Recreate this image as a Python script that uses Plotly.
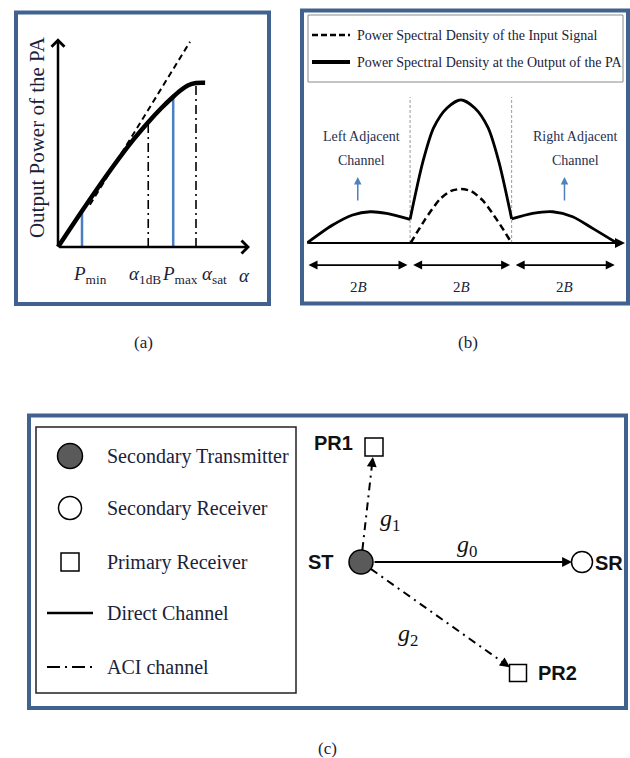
import math
import plotly.graph_objects as go

W, H = 630, 758

# ---------------- data ----------------
# (a) PA characteristic: input power alpha -> output power (arbitrary units)
PA_IN = [0.0, 1.0, 2.0, 3.0, 3.76, 4.3, 4.8, 5.1, 5.43, 5.75, 6.13]
PA_OUT = [0.0, 1.5, 2.95, 4.3, 5.2, 5.78, 6.26, 6.52, 6.74, 6.83, 6.84]
LINEAR_IN = [1.33, 5.5]
LINEAR_OUT = [1.76, 8.55]
BLUE_MARK_X = [1.0, 4.8]           # P_min, P_max
BLUE_MARK_Y = [1.5, 6.26]
DASHDOT_MARK_X = [3.76, 5.75]      # alpha_1dB, alpha_sat
DASHDOT_MARK_Y = [5.2, 6.83]
A_TICK_LABELS = ["<i>P</i><sub>min</sub>", "<i>α</i><sub>1dB</sub>",
                 "<i>P</i><sub>max</sub>", "<i>α</i><sub>sat</sub>", "<i>α</i>"]
A_TICK_X = [1.33, 3.63, 5.08, 6.54, 7.79]
A_YTITLE = "Output Power of the PA"

# (b) power spectral densities (frequency in units of B)
PSD_LEFT_F = [-3.0, -2.5, -2.11, -1.77, -1.45, -0.99]
PSD_LEFT = [0.0, 0.123, 0.192, 0.214, 0.203, 0.162]
PSD_MAIN_F = [-0.99, -0.74, -0.53, -0.27, 0.0, 0.27, 0.53, 0.74, 0.99]
PSD_MAIN = [0.162, 0.557, 0.79, 0.925, 0.98, 0.925, 0.79, 0.557, 0.165]
PSD_RIGHT_F = [0.99, 1.40, 1.79, 2.18, 2.57, 3.04]
PSD_RIGHT = [0.165, 0.203, 0.214, 0.180, 0.10, 0.0]
PSD_IN_F = [-0.98, -0.70, -0.41, -0.2, 0.0, 0.2, 0.43, 0.72, 0.99]
PSD_IN = [0.0, 0.16, 0.30, 0.355, 0.37, 0.355, 0.29, 0.15, 0.0]
CHANNEL_EDGES = [-0.99, 0.99]
BW_START = [-3.0, -0.96, 1.04]
BW_END = [-1.04, 0.96, 3.0]
BW_LABEL_X = [-2.0, 0.02, 2.03]
BW_LABEL = "2<i>B</i>"
ADJ_LINE1 = ["Left Adjacent", "Right Adjacent"]
ADJ_LINE2 = ["Channel", "Channel"]
ADJ_TEXT_X = [-1.94, 2.23]
ADJ_ARROW_X = [-2.01, 2.02]
B_LEGEND = ["Power Spectral Density of the Input Signal",
            "Power Spectral Density at the Output of the PA"]

# (c) system model
LEG_C_LABELS = ["Secondary Transmitter", "Secondary Receiver", "Primary Receiver",
                "Direct Channel", "ACI channel"]
NODE_NAMES = ["ST", "SR", "PR1", "PR2"]
NODE_X = [361, 582, 374, 518]
NODE_Y = [562, 562, 447, 673]
NODE_LABEL_X = [321, 609, 333, 557]
NODE_LABEL_Y = [562, 563, 443, 673]
LINK_FROM = ["ST", "ST", "ST"]
LINK_TO = ["SR", "PR1", "PR2"]
LINK_KIND = ["direct", "aci", "aci"]
GAIN_LABELS = ["<i>g</i><sub>0</sub>", "<i>g</i><sub>1</sub>", "<i>g</i><sub>2</sub>"]
GAIN_X = [467, 390, 408]
GAIN_Y = [546, 520, 635]
CAPTIONS = ["(a)", "(b)", "(c)"]

# ---------------- styling ----------------
SERIF = "Liberation Serif"
SANS = "Liberation Sans"
TXT = "#1b2238"
BORDER = "#41628f"
BLUE = "#4a7fc1"

fig = go.Figure()


def dx(p0, p1):
    return [p0 / W, p1 / W]


def dy(top, bottom):
    return [1 - bottom / H, 1 - top / H]


# ---------- panel (a) ----------
bx, by = [], []
for x, y in zip(BLUE_MARK_X, BLUE_MARK_Y):
    bx += [x, x, None]
    by += [0, y, None]
fig.add_trace(go.Scatter(x=bx, y=by, mode="lines", xaxis="x2", yaxis="y2",
                         line=dict(color=BLUE, width=2.5)))
ddx, ddy = [], []
for x, y in zip(DASHDOT_MARK_X, DASHDOT_MARK_Y):
    ddx += [x, x, None]
    ddy += [0, y, None]
fig.add_trace(go.Scatter(x=ddx, y=ddy, mode="lines", xaxis="x2", yaxis="y2",
                         line=dict(color="black", width=1.6, dash="9px,4px,2px,4px")))
fig.add_trace(go.Scatter(x=LINEAR_IN, y=LINEAR_OUT, mode="lines", xaxis="x2", yaxis="y2",
                         line=dict(color="black", width=2, dash="6px,4px")))
fig.add_trace(go.Scatter(x=PA_IN, y=PA_OUT, mode="lines", xaxis="x2", yaxis="y2",
                         line=dict(color="black", width=4.5, shape="spline", smoothing=0.8)))

annotations = []
# axes arrows (a)
annotations.append(dict(x=8, y=0, ax=0, ay=0, xref="x2", yref="y2", axref="x2", ayref="y2",
                        showarrow=True, arrowhead=4, arrowwidth=2.5, arrowsize=1,
                        arrowcolor="black", text=""))
annotations.append(dict(x=0, y=8.7, ax=0, ay=0, xref="x2", yref="y2", axref="x2", ayref="y2",
                        showarrow=True, arrowhead=4, arrowwidth=2.5, arrowsize=1,
                        arrowcolor="black", text=""))
for lab, x in zip(A_TICK_LABELS, A_TICK_X):
    annotations.append(dict(x=x, y=-1.17, xref="x2", yref="y2", text=lab, showarrow=False,
                            font=dict(family=SERIF, size=19, color=TXT)))
annotations.append(dict(x=-0.875, y=4.58, xref="x2", yref="y2", text=A_YTITLE, textangle=-90,
                        showarrow=False, font=dict(family=SERIF, size=21, color=TXT)))

# ---------- panel (b) ----------
sx, sy = [], []
for e in CHANNEL_EDGES:
    sx += [e, e, None]
    sy += [0, 1.0, None]
fig.add_trace(go.Scatter(x=sx, y=sy, mode="lines", xaxis="x3", yaxis="y3",
                         line=dict(color="#9a9a9a", width=1, dash="3px,2px")))
fig.add_trace(go.Scatter(x=PSD_IN_F, y=PSD_IN, mode="lines", xaxis="x3", yaxis="y3",
                         line=dict(color="black", width=2.5, dash="7px,4px",
                                   shape="spline", smoothing=0.7)))
for fx, py in [(PSD_LEFT_F, PSD_LEFT), (PSD_MAIN_F, PSD_MAIN), (PSD_RIGHT_F, PSD_RIGHT)]:
    fig.add_trace(go.Scatter(x=fx, y=py, mode="lines", xaxis="x3", yaxis="y3",
                             line=dict(color="black", width=2.8, shape="spline", smoothing=0.8)))

annotations.append(dict(x=3.2, y=0, ax=-3.0, ay=0, xref="x3", yref="y3", axref="x3", ayref="y3",
                        showarrow=True, arrowhead=2, arrowwidth=2, arrowsize=1,
                        arrowcolor="black", text=""))
for s, e, lx in zip(BW_START, BW_END, BW_LABEL_X):
    annotations.append(dict(x=e, y=-0.151, ax=s, ay=-0.151, xref="x3", yref="y3",
                            axref="x3", ayref="y3", showarrow=True, arrowside="end+start",
                            arrowhead=2, startarrowhead=2, arrowwidth=1.8, arrowsize=1,
                            startarrowsize=1, arrowcolor="black", text=""))
    annotations.append(dict(x=lx, y=-0.30, xref="x3", yref="y3", text=BW_LABEL,
                            showarrow=False, font=dict(family=SERIF, size=15, color=TXT)))
for l1, l2, tx, axx in zip(ADJ_LINE1, ADJ_LINE2, ADJ_TEXT_X, ADJ_ARROW_X):
    annotations.append(dict(x=tx, y=0.729, xref="x3", yref="y3", text=l1, showarrow=False,
                            font=dict(family=SERIF, size=14, color="#26304f")))
    annotations.append(dict(x=tx, y=0.568, xref="x3", yref="y3", text=l2, showarrow=False,
                            font=dict(family=SERIF, size=14, color="#26304f")))
    annotations.append(dict(x=axx, y=0.452, ax=axx, ay=0.281, xref="x3", yref="y3",
                            axref="x3", ayref="y3", showarrow=True, arrowhead=2,
                            arrowwidth=1.5, arrowsize=1, arrowcolor="#4f81bd", text=""))

# legend (b) drawn in figure pixel space
fig.add_trace(go.Scatter(x=[312, 350], y=[35, 35], mode="lines", xaxis="x", yaxis="y",
                         line=dict(color="black", width=2.5, dash="6px,3px")))
fig.add_trace(go.Scatter(x=[312, 350], y=[62, 62], mode="lines", xaxis="x", yaxis="y",
                         line=dict(color="black", width=4)))
for lab, yy in zip(B_LEGEND, [35, 62]):
    annotations.append(dict(x=355, y=yy, xref="x", yref="y", text=lab, showarrow=False,
                            xanchor="left", font=dict(family=SERIF, size=14, color=TXT)))

# ---------- panel (c) ----------
LEG_Y = [456, 508, 562, 613, 667]
fig.add_trace(go.Scatter(x=[70], y=[LEG_Y[0]], mode="markers", xaxis="x", yaxis="y",
                         marker=dict(symbol="circle", size=25, color="#5a5a5a",
                                     line=dict(color="black", width=1.5))))
fig.add_trace(go.Scatter(x=[70], y=[LEG_Y[1]], mode="markers", xaxis="x", yaxis="y",
                         marker=dict(symbol="circle", size=23, color="white",
                                     line=dict(color="black", width=1.5))))
fig.add_trace(go.Scatter(x=[70], y=[LEG_Y[2]], mode="markers", xaxis="x", yaxis="y",
                         marker=dict(symbol="square", size=18, color="white",
                                     line=dict(color="black", width=1.5))))
fig.add_trace(go.Scatter(x=[47, 93], y=[LEG_Y[3], LEG_Y[3]], mode="lines", xaxis="x", yaxis="y",
                         line=dict(color="black", width=2.5)))
fig.add_trace(go.Scatter(x=[47, 93], y=[LEG_Y[4], LEG_Y[4]], mode="lines", xaxis="x", yaxis="y",
                         line=dict(color="black", width=2, dash="13px,5px,2px,5px")))
for lab, yy in zip(LEG_C_LABELS, LEG_Y):
    annotations.append(dict(x=105, y=yy, xref="x", yref="y", text=lab, showarrow=False,
                            xanchor="left", font=dict(family=SERIF, size=20, color=TXT)))

pos = {n: (x, y) for n, x, y in zip(NODE_NAMES, NODE_X, NODE_Y)}
gap_start = {"ST": 12}
gap_end = {"SR": 10, "PR1": 10, "PR2": 10}
for a, b, kind in zip(LINK_FROM, LINK_TO, LINK_KIND):
    x0, y0 = pos[a]
    x1, y1 = pos[b]
    L = math.hypot(x1 - x0, y1 - y0)
    ux, uy = (x1 - x0) / L, (y1 - y0) / L
    sx0, sy0 = x0 + ux * gap_start[a], y0 + uy * gap_start[a]
    tx, ty = x1 - ux * gap_end[b], y1 - uy * gap_end[b]
    if kind == "direct":
        annotations.append(dict(x=tx, y=ty, ax=sx0, ay=sy0, xref="x", yref="y", axref="x",
                                ayref="y", showarrow=True, arrowhead=2, arrowwidth=1.8,
                                arrowsize=1.1, arrowcolor="black", text=""))
    else:
        fig.add_trace(go.Scatter(x=[sx0, tx - ux * 6], y=[sy0, ty - uy * 6], mode="lines",
                                 xaxis="x", yaxis="y",
                                 line=dict(color="black", width=2, dash="8px,5px,2px,5px")))
        annotations.append(dict(x=tx, y=ty, ax=-ux * 10, ay=-uy * 10, xref="x", yref="y",
                                showarrow=True, arrowhead=2, arrowwidth=1.8, arrowsize=1.1,
                                arrowcolor="black", text=""))

node_style = {
    "ST": dict(symbol="circle", size=24, color="#5a5a5a"),
    "SR": dict(symbol="circle", size=21, color="white"),
    "PR1": dict(symbol="square", size=18, color="white"),
    "PR2": dict(symbol="square", size=17, color="white"),
}
for n in NODE_NAMES:
    st = node_style[n]
    fig.add_trace(go.Scatter(x=[pos[n][0]], y=[pos[n][1]], mode="markers", xaxis="x", yaxis="y",
                             marker=dict(symbol=st["symbol"], size=st["size"], color=st["color"],
                                         line=dict(color="black", width=1.5))))
for n, lx, ly in zip(NODE_NAMES, NODE_LABEL_X, NODE_LABEL_Y):
    annotations.append(dict(x=lx, y=ly, xref="x", yref="y", text="<b>%s</b>" % n,
                            showarrow=False, font=dict(family=SANS, size=20, color="#111111")))
for lab, gx, gy in zip(GAIN_LABELS, GAIN_X, GAIN_Y):
    annotations.append(dict(x=gx, y=gy, xref="x", yref="y", text=lab, showarrow=False,
                            font=dict(family=SERIF, size=24, color="#111111")))

# captions
for cap, cx, cy in zip(CAPTIONS, [143, 468, 327], [342, 342, 748]):
    annotations.append(dict(x=cx, y=cy, xref="x", yref="y", text=cap, showarrow=False,
                            font=dict(family=SERIF, size=17, color=TXT)))

# panel frames and legend boxes
shapes = [
    dict(type="rect", xref="x", yref="y", x0=16, y0=12.5, x1=269, y1=304,
         line=dict(color=BORDER, width=4)),
    dict(type="rect", xref="x", yref="y", x0=302, y0=10.5, x1=628, y1=303.5,
         line=dict(color=BORDER, width=4)),
    dict(type="rect", xref="x", yref="y", x0=29, y0=415.5, x1=626, y1=708,
         line=dict(color=BORDER, width=4)),
    dict(type="rect", xref="x", yref="y", x0=308, y0=15, x1=623, y1=82,
         line=dict(color="#8a8a8a", width=1)),
    dict(type="rect", xref="x", yref="y", x0=36, y0=427, x1=296, y1=693,
         line=dict(color="#222222", width=1.5)),
]

hid = dict(visible=False, showgrid=False, zeroline=False, fixedrange=True)
fig.update_layout(
    width=W, height=H, margin=dict(l=0, r=0, t=0, b=0),
    paper_bgcolor="white", plot_bgcolor="rgba(0,0,0,0)", showlegend=False,
    xaxis=dict(domain=[0, 1], range=[0, W], **hid),
    yaxis=dict(domain=[0, 1], range=[H, 0], **hid),
    xaxis2=dict(domain=dx(22, 250), range=[-1.5, 8], anchor="y2", **hid),
    yaxis2=dict(domain=dy(38.2, 295), range=[-2, 8.7], anchor="x2", **hid),
    xaxis3=dict(domain=dx(307, 625), range=[-3, 3.2], anchor="y3", **hid),
    yaxis3=dict(domain=dy(89.7, 294.1), range=[-0.35, 1.05], anchor="x3", **hid),
    annotations=annotations, shapes=shapes,
)

fig.write_html("out.html", config={"displayModeBar": False},
               post_script="document.body.style.margin='0px';document.body.style.overflow='hidden';")
